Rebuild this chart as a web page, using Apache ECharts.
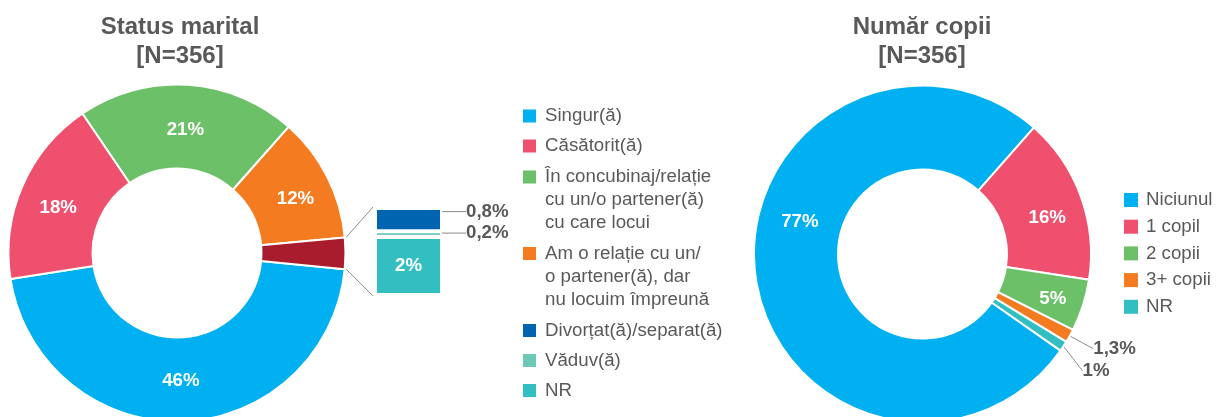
<!DOCTYPE html>
<html><head><meta charset="utf-8">
<script src="https://cdn.jsdelivr.net/npm/echarts@6/dist/echarts.min.js"></script>
<style>html,body{margin:0;padding:0;background:#fff}#c{width:1216px;height:417px}</style>
</head><body><div id="c"></div>
<script>
// ---- data ----
const maritalCategories = ['Singur(ă)', 'Căsătorit(ă)', 'În concubinaj/relație cu un/o partener(ă) cu care locui', 'Am o relație cu un/o partener(ă), dar nu locuim împreună', 'Alte situații'];
const maritalLegendLabels = ['Singur(ă)', 'Căsătorit(ă)', 'În concubinaj/relație\ncu un/o partener(ă)\ncu care locui', 'Am o relație cu un/\no partener(ă), dar\nnu locuim împreună'];
const maritalValues = [46, 18, 21, 12, 3];
const otherCategories = ['Divorțat(ă)/separat(ă)', 'Văduv(ă)', 'NR'];
const otherValues = [0.8, 0.2, 2];
const childCategories = ['Niciunul', '1 copil', '2 copii', '3+ copii', 'NR'];
const childValues = [77, 16, 5, 1.3, 1];
const titles = ['Status marital\n[N=356]', 'Număr copii\n[N=356]'];

// ---- style ----
const maritalColors = ['#00B0F0', '#EF506E', '#6CC068', '#F47B20', '#A91C2D'];
const otherColors = ['#0064B1', '#6DC8B5', '#33BFC1'];
const childColors = ['#00B0F0', '#EF506E', '#6CC068', '#F47B20', '#33BFC1'];
const FONT = '"Liberation Sans", Arial, sans-serif';
const GRAY = '#595959';
const LINE = '#8C8C8C';

const left = {cx: 177, cy: 253, r0: 84.5, r1: 168.5, start: -5.5};
const right = {cx: 922.5, cy: 254, r0: 84.5, r1: 168.5, start: -35};
const bar = {left: 375, top: 208, width: 67, height: 87};
// label nudges (Excel places labels slightly off the mid-radius)
const leftNudge = [[0, -2], [0, 6], [0, 6], [3, 4], [0, 0]];
const rightNudge = [[6, -48], [3, 8], [7, 5], [8, 7], [4, 18]];

const fmt = v => String(v).replace('.', ',') + '%';
const labelMap = {};
maritalCategories.forEach((c, i) => { if (maritalLegendLabels[i]) labelMap[c] = maritalLegendLabels[i]; });

const chart = echarts.init(document.getElementById('c'), null, {renderer: 'canvas'});

const legendBase = {
  orient: 'vertical', icon: 'rect', itemWidth: 13, itemHeight: 13, left: 523, padding: 0,
  selectedMode: false, itemStyle: {borderWidth: 0},
  formatter: n => labelMap[n] || n,
  textStyle: {fontSize: 18.7, color: GRAY, fontFamily: FONT, lineHeight: 23, padding: [0, 0, 0, 4]}
};
const multiIcon = 'path://M0,0L0.01,0Z M0,5H13V18H0Z M13,69L12.99,69Z';

const barSeries = [];
for (let i = otherCategories.length - 1; i >= 0; i--) {
  const isLast = i === otherCategories.length - 1;
  barSeries.push({
    type: 'bar', name: otherCategories[i], stack: 'o', barWidth: '100%',
    data: [otherValues[i]],
    itemStyle: {color: otherColors[i], borderColor: '#fff', borderWidth: 2},
    label: isLast ? {show: true, position: 'inside', color: '#fff', fontWeight: 'bold', fontSize: 18.7, fontFamily: FONT, formatter: () => fmt(otherValues[i])}
                  : {show: true, position: 'right', distance: 24, color: GRAY, fontWeight: 'bold', fontSize: 18.7, fontFamily: FONT, formatter: () => fmt(otherValues[i])},
    labelLine: {show: !isLast, lineStyle: {color: LINE, width: 1}},
    labelLayout: isLast ? null : {dy: i === 0 ? -8 : -1},
    silent: true
  });
}

const deg = Math.PI / 180;
const aTop = (left.start + 360 * maritalValues[4] / maritalValues.reduce((a, b) => a + b, 0)) * deg;
const aBot = left.start * deg;
const rr = left.r1 + 1.5;

const option = {
  animation: false,
  title: titles.map((t, i) => ({
    text: t, left: i === 0 ? 180 : 922, top: 13, textAlign: 'center', padding: 0,
    textStyle: {fontSize: 24, fontWeight: 'bold', color: GRAY, fontFamily: FONT, lineHeight: 29}
  })),
  legend: [
    Object.assign({}, legendBase, {top: 104.5, itemGap: 7, data: maritalCategories.slice(0, 2)}),
    Object.assign({}, legendBase, {top: 165.5, itemHeight: 69, data: [{name: maritalCategories[2], icon: multiIcon}]}),
    Object.assign({}, legendBase, {top: 242, itemHeight: 69, data: [{name: maritalCategories[3], icon: multiIcon}]}),
    Object.assign({}, legendBase, {top: 319, itemGap: 7, data: otherCategories}),
    Object.assign({}, legendBase, {left: 1124, top: 189.5, itemWidth: 14, itemHeight: 14, itemGap: 5.7,
      textStyle: {fontSize: 18.7, color: GRAY, fontFamily: FONT, lineHeight: 21, padding: [0, 0, 0, 3]},
      data: childCategories})
  ],
  grid: {left: bar.left, top: bar.top, width: bar.width, height: bar.height},
  xAxis: {type: 'category', data: [''], show: false},
  yAxis: {type: 'value', min: 0, max: 3, show: false},
  series: [
    {
      type: 'pie', center: [left.cx, left.cy], radius: [left.r0, left.r1], startAngle: left.start,
      avoidLabelOverlap: false, silent: true,
      itemStyle: {borderColor: '#fff', borderWidth: 2},
      label: {show: true, position: 'inside', color: '#fff', fontWeight: 'bold', fontSize: 18.7, fontFamily: FONT,
        formatter: p => fmt(p.value)},
      labelLine: {show: false},
      labelLayout: p => ({dx: leftNudge[p.dataIndex][0], dy: leftNudge[p.dataIndex][1]}),
      data: maritalValues.map((v, i) => ({
        name: maritalCategories[i], value: v, itemStyle: {color: maritalColors[i]},
        label: i === 4 ? {show: false} : undefined
      }))
    },
    ...barSeries,
    {
      type: 'pie', center: [right.cx, right.cy], radius: [right.r0, right.r1], startAngle: right.start,
      avoidLabelOverlap: false, silent: true,
      itemStyle: {borderColor: '#fff', borderWidth: 2},
      label: {show: true, position: 'inside', color: '#fff', fontWeight: 'bold', fontSize: 18.7, fontFamily: FONT,
        formatter: p => fmt(p.value)},
      labelLine: {show: false},
      labelLayout: p => {
        const n = rightNudge[p.dataIndex];
        if (p.dataIndex >= 3) {
          const r = p.labelRect;
          return {x: r.x + n[0], y: r.y + r.height / 2 + n[1]};
        }
        return {dx: n[0], dy: n[1]};
      },
      data: childValues.map((v, i) => ({
        name: childCategories[i], value: v, itemStyle: {color: childColors[i]},
        label: i >= 3 ? {position: 'outside', color: GRAY} : undefined,
        labelLine: i >= 3 ? {show: true, length: 12, length2: 0, lineStyle: {color: LINE, width: 1}} : undefined
      }))
    }
  ],
  graphic: [
    {type: 'line', silent: true, shape: {x1: left.cx + rr * Math.cos(aTop), y1: left.cy - rr * Math.sin(aTop), x2: bar.left - 2, y2: bar.top - 1}, style: {stroke: LINE, lineWidth: 1}},
    {type: 'line', silent: true, shape: {x1: left.cx + rr * Math.cos(aBot), y1: left.cy - rr * Math.sin(aBot), x2: bar.left - 2, y2: bar.top + bar.height + 1}, style: {stroke: LINE, lineWidth: 1}}
  ]
};
chart.setOption(option);
</script>
</body></html>
